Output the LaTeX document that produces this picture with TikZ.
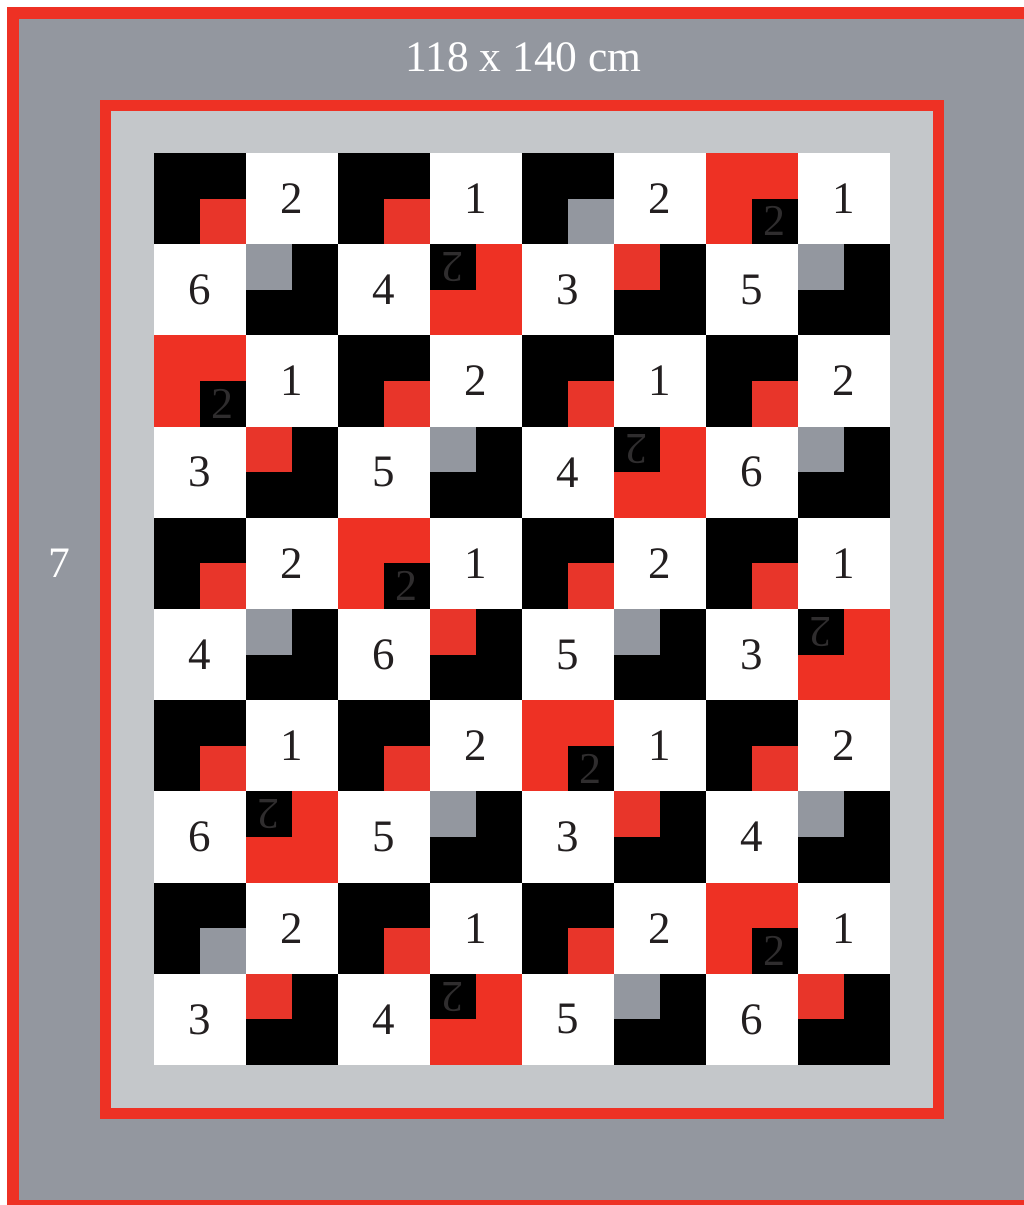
\documentclass[tikz,border=0pt]{standalone}
\usepackage{fontspec}
\setmainfont{Liberation Serif}
\definecolor{frameRed}{HTML}{EE3124}
\definecolor{sqRed}{HTML}{E8352A}
\definecolor{outerGray}{HTML}{93979F}
\definecolor{innerGray}{HTML}{C4C7CA}
\definecolor{numInk}{HTML}{231F20}
\definecolor{twoInk}{HTML}{2F2D2E}
\begin{document}
\begin{tikzpicture}[x=1pt,y=-1pt,
  numlbl/.style={text=numInk,font=\fontsize{45}{45}\selectfont,inner sep=0pt},
  twolbl/.style={text=twoInk,font=\fontsize{44}{44}\selectfont,inner sep=0pt},
  whitelbl/.style={text=white,font=\fontsize{43.5}{43.5}\selectfont,inner sep=0pt}]
\useasboundingbox (0,0) rectangle (1024,1205);
\clip (0,0) rectangle (1024,1205);
\fill[white] (0,0) rectangle (1024,1205);
% outer frame
\fill[frameRed] (7,7) rectangle (1040,1215);
\fill[outerGray] (19,19) rectangle (1030,1200);
% inner frame
\fill[frameRed] (100,100) rectangle (944,1119);
\fill[innerGray] (111,111) rectangle (933,1108);
% grid background
\fill[white] (153.5,153) rectangle (890,1065);
\node[whitelbl] (size) at (523.5,57.5) {118 x 140 cm};
\node[whitelbl] (seven) at (59,563.5) {7};
\foreach \rowlist [count=\r from 0] in {
  {R,2,R,1,G,2,L,1},
  {6,G,4,L,3,R,5,G},
  {L,1,R,2,R,1,R,2},
  {3,R,5,G,4,L,6,G},
  {R,2,L,1,R,2,R,1},
  {4,G,6,R,5,G,3,L},
  {R,1,R,2,L,1,R,2},
  {6,L,5,G,3,R,4,G},
  {G,2,R,1,R,2,L,1},
  {3,R,4,L,5,G,6,R}} {
  \foreach \t [count=\c from 0] in \rowlist {
    \pgfmathsetmacro\xa{153.5+\c*92.0625}
    \pgfmathsetmacro\ya{153+\r*91.2}
    \pgfmathsetmacro\xb{\xa+92.0625}
    \pgfmathsetmacro\yb{\ya+91.2}
    \pgfmathsetmacro\xm{\xa+46.03}
    \pgfmathsetmacro\ym{\ya+45.6}
    \ifodd\r
      \coordinate (sa) at (\xa,\ya);
      \coordinate (sb) at (\xm,\ym);
      \pgfmathsetmacro\cx{\xa+23.015}
      \pgfmathsetmacro\cy{\ya+22.8}
      \def\rot{180}
    \else
      \coordinate (sa) at (\xm,\ym);
      \coordinate (sb) at (\xb,\yb);
      \pgfmathsetmacro\cx{\xm+23.015}
      \pgfmathsetmacro\cy{\ym+22.8}
      \def\rot{0}
    \fi
    \if\t R
      \fill[black] (\xa,\ya) rectangle (\xb,\yb);
      \fill[sqRed] (sa) rectangle (sb);
    \else\if\t G
      \fill[black] (\xa,\ya) rectangle (\xb,\yb);
      \fill[outerGray] (sa) rectangle (sb);
    \else\if\t L
      \fill[frameRed] (\xa,\ya) rectangle (\xb,\yb);
      \fill[black] (sa) rectangle (sb);
      \node[twolbl,rotate=\rot] (t-\r-\c) at (\cx,\cy) {2};
    \else
      \node[numlbl] (n-\r-\c) at (\xm,\ym) {\t};
    \fi\fi\fi
  }
}
\end{tikzpicture}
\end{document}
